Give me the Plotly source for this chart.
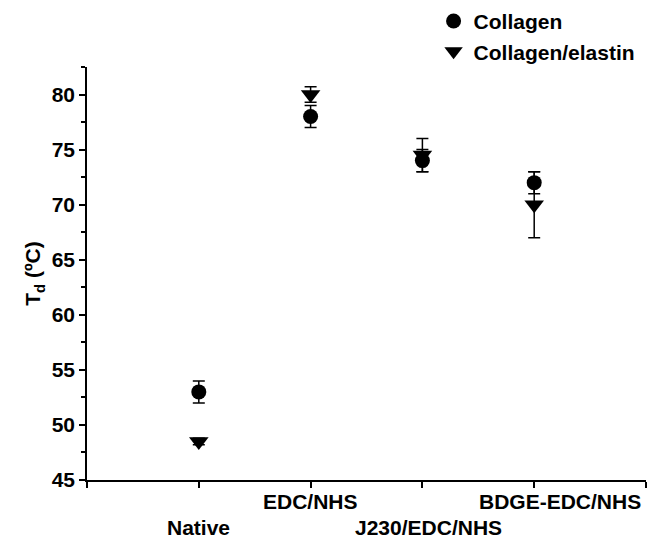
import plotly.graph_objects as go

categories = ["Native", "EDC/NHS", "J230/EDC/NHS", "BDGE-EDC/NHS"]
cat_pos = [1, 2, 3, 4]
collagen = [53.0, 78.0, 74.0, 72.0]
collagen_err = [1.0, 1.0, 1.0, 1.0]
col_elastin = [48.5, 80.0, 74.5, 70.0]
col_elastin_err = [0.3, 0.7, 1.5, 3.0]
label_rows = [1, 0, 1, 0]
label_xshift = [0, 0, 6, 26]
y_ticks = [45, 50, 55, 60, 65, 70, 75, 80]

FONT = "Liberation Sans, Arial, Helvetica, sans-serif"
FS = 21

fig = go.Figure()
fig.add_trace(go.Scatter(
    x=cat_pos, y=collagen, mode="markers", name="Collagen",
    marker=dict(symbol="circle", size=15, color="black"),
    error_y=dict(type="data", array=collagen_err, color="black", thickness=1.5, width=6),
))
fig.add_trace(go.Scatter(
    x=cat_pos, y=col_elastin, mode="markers", name="Collagen/elastin",
    marker=dict(symbol="triangle-down", size=17, color="black"),
    error_y=dict(type="data", array=col_elastin_err, color="black", thickness=1.5, width=6),
))

for xv, lab, row, xs in zip(cat_pos, categories, label_rows, label_xshift):
    fig.add_annotation(
        x=xv, y=0, xref="x", yref="paper", text=lab, showarrow=False,
        yanchor="top", xanchor="center", xshift=xs, yshift=-8 - 26 * row,
        font=dict(family=FONT, size=FS, color="black", weight="bold"),
    )

# page body has an 8px margin, so the figure is 16px smaller and shifted
fig.update_layout(
    width=648, height=531,
    margin=dict(l=79, r=10, t=59, b=59, autoexpand=False),
    paper_bgcolor="white", plot_bgcolor="white",
    font=dict(family=FONT, size=FS, color="black", weight="bold"),
    showlegend=True,
    legend=dict(x=0.62, y=1.16, xanchor="left", yanchor="top",
                bgcolor="rgba(0,0,0,0)", itemwidth=30, tracegroupgap=0,
                font=dict(family=FONT, size=FS, color="black", weight="bold")),
)
fig.update_xaxes(
    range=[0, 5], tickvals=[0, 1, 2, 3, 4, 5], showticklabels=False,
    ticks="outside", ticklen=6, tickwidth=1.5, tickcolor="black",
    showline=True, linecolor="black", linewidth=1.5, showgrid=False, zeroline=False,
)
fig.update_yaxes(
    range=[45, 82.5], tickvals=y_ticks, ticks="outside", ticklen=6, tickwidth=1.5,
    tickcolor="black", showline=True, linecolor="black", linewidth=1.5,
    showgrid=False, zeroline=False,
    tickfont=dict(family=FONT, size=FS, color="black", weight="bold"),
    minor=dict(dtick=2.5, tick0=45, ticks="outside", ticklen=4, tickwidth=1.5, tickcolor="black"),
    title=dict(text="T<sub>d</sub> (ºC)", standoff=5,
               font=dict(family=FONT, size=FS, color="black", weight="bold")),
)

fig.write_html("out.html")
